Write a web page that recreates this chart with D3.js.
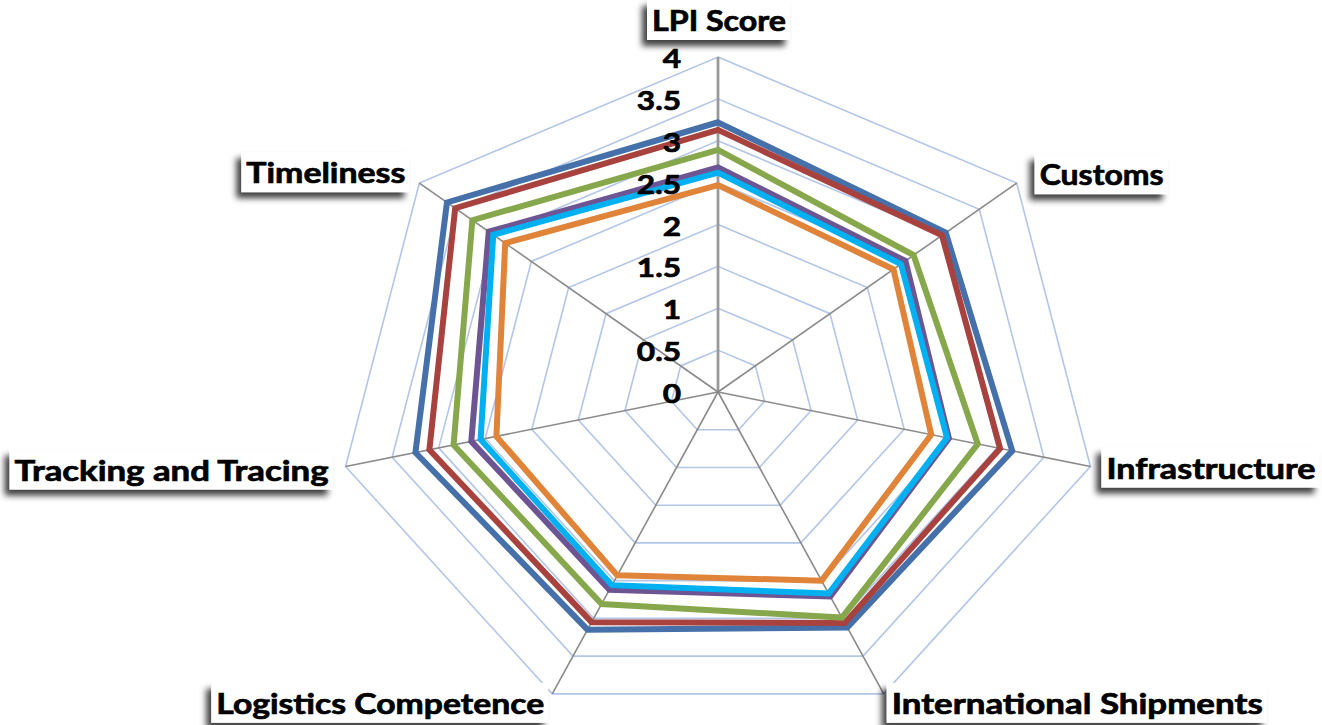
<!DOCTYPE html>
<html>
<head>
<meta charset="utf-8">
<script src="https://cdn.jsdelivr.net/npm/d3@7"></script>
<style>
  body { margin: 0; background: #fff; }
  svg { display: block; }
</style>
</head>
<body>
<div id="chart"></div>
<script>
// axis names, clockwise from the top
var axes = ["LPI Score", "Customs", "Infrastructure", "International Shipments",
            "Logistics Competence", "Tracking and Tracing", "Timeliness"];

// radial tick values and their labels
var tickValues = [0, 0.5, 1, 1.5, 2, 2.5, 3, 3.5, 4];
var tickLabels = ["0", "0.5", "1", "1.5", "2", "2.5", "3", "3.5", "4"];

// one array per series, same order as axes
var seriesBlue   = [3.22, 3.05, 3.16, 3.12, 3.15, 3.25, 3.63];
var seriesRed    = [3.13, 3.00, 3.03, 3.06, 3.05, 3.10, 3.52];
var seriesGreen  = [2.89, 2.62, 2.79, 2.99, 2.81, 2.84, 3.29];
var seriesPurple = [2.68, 2.51, 2.48, 2.71, 2.62, 2.65, 3.07];
var seriesCyan   = [2.62, 2.45, 2.46, 2.67, 2.56, 2.55, 3.01];
var seriesOrange = [2.47, 2.35, 2.29, 2.50, 2.43, 2.38, 2.85];

var allSeries = [seriesBlue, seriesRed, seriesGreen, seriesPurple, seriesCyan, seriesOrange];
var colors = ["#4570a9", "#a8423f", "#86a74b", "#6d5594", "#00b0f0", "#e0843a"];

// stage
var width = 1322, height = 725;
var cx = 718, cy = 392;
var Rx = 382, Ry = 335;   // the plot is stretched sideways

var r = d3.scaleLinear().domain([0, 4]).range([0, 1]);
var angle = d3.scaleLinear().domain([0, axes.length]).range([0, 2 * Math.PI]);

function px(i, v) { return cx + Rx * r(v) * Math.sin(angle(i)); }
function py(i, v) { return cy - Ry * r(v) * Math.cos(angle(i)); }

var svg = d3.select("#chart").append("svg")
    .attr("width", width)
    .attr("height", height);

var defs = svg.append("defs");
defs.append("filter")
    .attr("id", "shadow")
    .attr("x", "-20%").attr("y", "-40%")
    .attr("width", "140%").attr("height", "180%")
  .append("feDropShadow")
    .attr("dx", -5).attr("dy", 6)
    .attr("stdDeviation", 3)
    .attr("flood-color", "#000")
    .attr("flood-opacity", 0.75);

// grid rings
var ring = d3.line()
    .x(function(d) { return d[0]; })
    .y(function(d) { return d[1]; })
    .curve(d3.curveLinearClosed);

svg.append("g").selectAll("path")
    .data(tickValues.slice(1))
    .enter().append("path")
    .attr("d", function(v) {
        return ring(axes.map(function(a, i) { return [px(i, v), py(i, v)]; }));
    })
    .attr("fill", "none")
    .attr("stroke", "#b3c6e8")
    .attr("stroke-width", 1.6);

// spokes
svg.append("g").selectAll("line")
    .data(axes)
    .enter().append("line")
    .attr("x1", cx).attr("y1", cy)
    .attr("x2", function(d, i) { return px(i, 4); })
    .attr("y2", function(d, i) { return py(i, 4); })
    .attr("stroke", function(d, i) { return i === 0 ? "#9a9a9a" : "#8a8a8a"; })
    .attr("stroke-width", function(d, i) { return i === 0 ? 2.8 : 1.6; });

// series
var seriesLine = d3.line()
    .x(function(d, i) { return px(i, d); })
    .y(function(d, i) { return py(i, d); })
    .curve(d3.curveLinearClosed);

svg.append("g").selectAll("path")
    .data(allSeries)
    .enter().append("path")
    .attr("d", seriesLine)
    .attr("fill", "none")
    .attr("stroke", function(d, i) { return colors[i]; })
    .attr("stroke-width", 6)
    .attr("stroke-linejoin", "miter");

// tick labels on the top spoke
svg.append("g").selectAll("text")
    .data(tickValues)
    .enter().append("text")
    .attr("transform", function(v) {
        return "translate(681," + (py(0, v) + 11) + ") scale(1.17,1)";
    })
    .attr("text-anchor", "end")
    .attr("font-family", "Lato, 'Open Sans', sans-serif")
    .attr("font-weight", "bold")
    .attr("font-size", 27)
    .attr("fill", "#000")
    .attr("stroke", "#000")
    .attr("stroke-width", 0.7)
    .text(function(v, i) { return tickLabels[i]; });

// axis labels: [dx from spoke end, baseline dy, anchor, ink width]
var labelLayout = [
    [1, -26, "middle", 134],
    [23, 2, "start", 124],
    [16, 12, "start", 209],
    [8, 20, "start", 371],
    [-8, 20, "end", 328],
    [-17, 14, "end", 314],
    [-14, 0, "end", 159]
];

var labels = svg.append("g").selectAll("g")
    .data(axes)
    .enter().append("g")
    .attr("transform", function(d, i) {
        var L = labelLayout[i];
        return "translate(" + (px(i, 4) + L[0]) + "," + (py(i, 4) + L[1]) + ")";
    });

labels.append("rect")
    .attr("x", function(d, i) {
        var L = labelLayout[i];
        var x0 = L[2] === "start" ? 0 : (L[2] === "end" ? -L[3] : -L[3] / 2);
        return x0 - 5;
    })
    .attr("y", -31)
    .attr("width", function(d, i) { return labelLayout[i][3] + 9; })
    .attr("height", 40)
    .attr("fill", "#fff")
    .attr("filter", "url(#shadow)");

labels.append("text")
    .attr("text-anchor", function(d, i) { return labelLayout[i][2]; })
    .attr("font-family", "Lato, 'Open Sans', sans-serif")
    .attr("font-weight", "bold")
    .attr("font-size", 28)
    .attr("fill", "#000")
    .attr("stroke", "#000")
    .attr("stroke-width", 0.7)
    .attr("textLength", function(d, i) { return labelLayout[i][3]; })
    .attr("lengthAdjust", "spacingAndGlyphs")
    .text(function(d) { return d; });
</script>
</body>
</html>
